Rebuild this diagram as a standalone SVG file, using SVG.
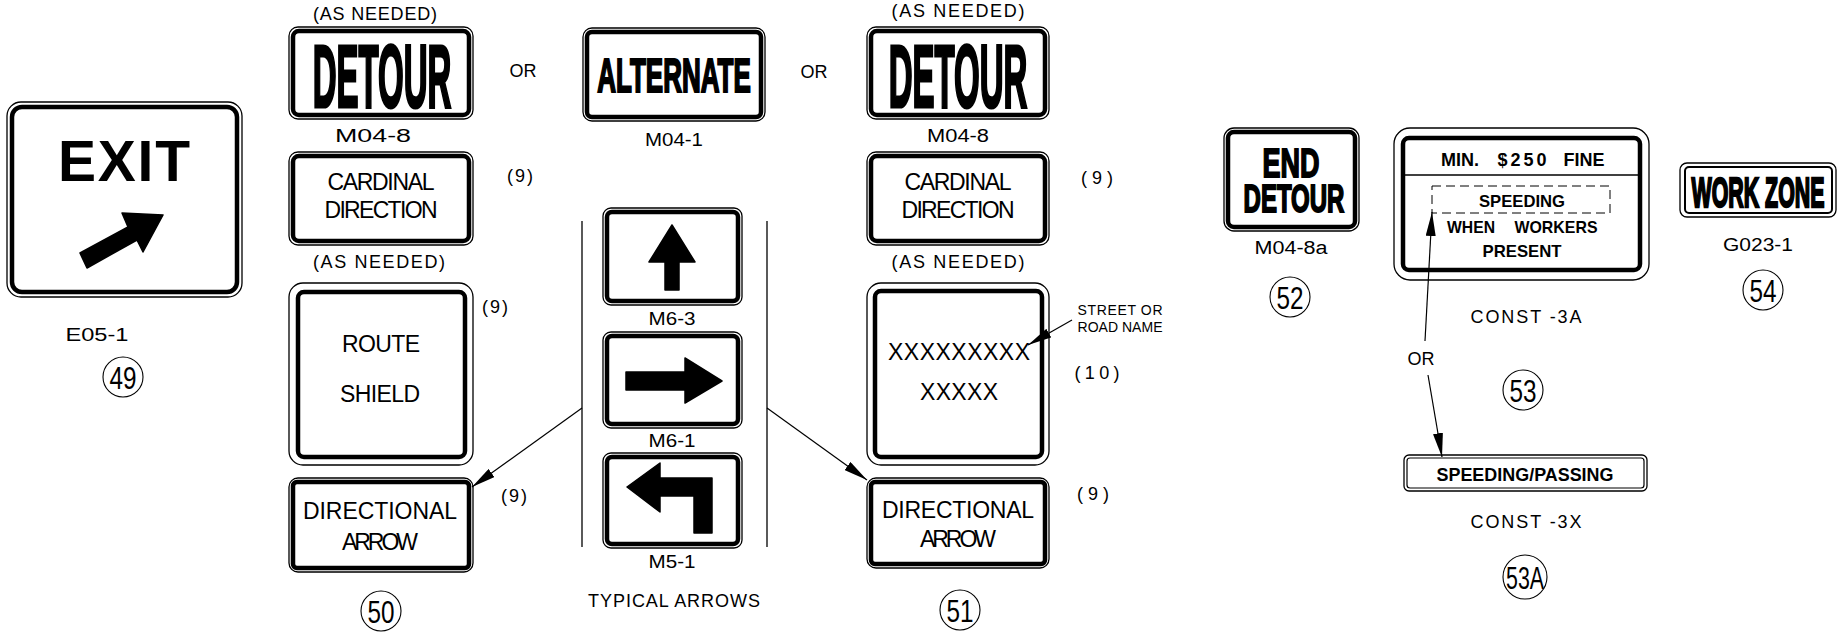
<svg xmlns="http://www.w3.org/2000/svg" width="1840" height="638" viewBox="0 0 1840 638">
<style>
  text { font-family: "Liberation Sans", Arial, sans-serif; fill: #000; text-anchor: middle; }
  .lbl { font-size: 18px; }
  .sm { font-size: 14px; }
  .sig { font-size: 23px; }
  .b { font-weight: bold; }
  .num { font-size: 32px; }
  .o { fill: #fff; stroke: #000; stroke-width: 1.3; }
  .i { fill: none; stroke: #000; stroke-width: 4.5; }
  .ln { fill: none; stroke: #000; stroke-width: 1.3; }
  .ar { fill: none; stroke: #000; stroke-width: 1.2; marker-end: url(#ah); }
  .circ { fill: none; stroke: #000; stroke-width: 1.1; }
  .fillb { fill: #000; stroke: #000; stroke-width: 1.5; stroke-linejoin: round; }
  .hv { stroke: #000; stroke-width: 1.2; }
</style>
<defs>
  <marker id="ah" markerUnits="userSpaceOnUse" markerWidth="26" markerHeight="10" refX="24" refY="5" orient="auto">
    <path d="M0,0 L24,5 L0,10 z" fill="#000"/>
  </marker>
</defs>
<rect width="1840" height="638" fill="#fff"/>

<g id="sign-49-E05-1">
  <rect class="o" x="7" y="102" width="235" height="195" rx="14"/>
  <rect class="i" x="12" y="107" width="225" height="185" rx="10"/>
  <text class="b" x="124" y="181" font-size="57" textLength="132">EXIT</text>
  <polygon class="fillb" points="80,253 87,268 137,240 143,252 163,215 122,213 128,227"/>
  <text class="lbl" x="97" y="341" textLength="63" lengthAdjust="spacingAndGlyphs">E05-1</text>
  <circle class="circ" cx="123" cy="377" r="20"/>
  <text class="num" x="123" y="389" textLength="27" lengthAdjust="spacingAndGlyphs">49</text>
</g>

<g id="sign-50-M04-8">
  <text class="lbl" x="375" y="20" textLength="124">(AS NEEDED)</text>
  <rect class="o" x="289" y="27" width="184" height="92" rx="9"/>
  <rect class="i" x="293" y="31" width="176" height="84" rx="6"/>
  <text class="b hv" transform="translate(382,107) scale(1,2.69)" font-size="33" x="0" y="0">DETOUR</text>
  <text class="lbl" x="373" y="142" textLength="76" lengthAdjust="spacingAndGlyphs">M04-8</text>
</g>
<g id="sign-50-cardinal">
  <rect class="o" x="289" y="152" width="184" height="93" rx="9"/>
  <rect class="i" x="293" y="156" width="176" height="85" rx="6"/>
  <text class="sig" x="381" y="190" textLength="107">CARDINAL</text>
  <text class="sig" x="381" y="218" textLength="113">DIRECTION</text>
  <text class="lbl" x="520" y="182" textLength="26">(9)</text>
  <text class="lbl" x="379" y="268" textLength="132">(AS NEEDED)</text>
</g>
<g id="sign-50-route-shield">
  <rect class="o" x="289" y="283" width="184" height="182" rx="14"/>
  <rect class="i" x="298" y="292" width="167" height="165" rx="6" stroke-width="6"/>
  <text class="sig" x="381" y="352" textLength="78">ROUTE</text>
  <text class="sig" x="380" y="402" textLength="80">SHIELD</text>
  <text class="lbl" x="495" y="313" textLength="26">(9)</text>
</g>
<g id="sign-50-directional">
  <rect class="o" x="289" y="478" width="184" height="94" rx="9"/>
  <rect class="i" x="293" y="482" width="176" height="86" rx="4" stroke-width="4"/>
  <text class="sig" x="380" y="519" textLength="154">DIRECTIONAL</text>
  <text class="sig" x="380" y="550" textLength="76">ARROW</text>
  <text class="lbl" x="514" y="502" textLength="26">(9)</text>
  <circle class="circ" cx="381" cy="611" r="20"/>
  <text class="num" x="381" y="623" textLength="27" lengthAdjust="spacingAndGlyphs">50</text>
</g>

<g id="or-1"><text class="lbl" x="523" y="77">OR</text></g>
<g id="or-2"><text class="lbl" x="814" y="78">OR</text></g>

<g id="sign-M04-1">
  <rect class="o" x="583" y="28" width="182" height="93" rx="9"/>
  <rect class="i" x="587" y="32" width="174" height="85" rx="5" stroke-width="4"/>
  <text class="b hv" transform="translate(674,92) scale(1,1.87)" font-size="26" x="0" y="0">ALTERNATE</text>
  <text class="lbl" x="674" y="146" textLength="58" lengthAdjust="spacingAndGlyphs">M04-1</text>
</g>

<g id="sign-M6-3">
  <rect class="o" x="603" y="208" width="139" height="97" rx="8"/>
  <rect class="i" x="607" y="212" width="131" height="89" rx="5" stroke-width="4"/>
  <polygon class="fillb" points="665,290 679,290 679,262 695,262 672,225 649,262 665,262"/>
  <text class="lbl" x="672" y="325" textLength="47" lengthAdjust="spacingAndGlyphs">M6-3</text>
</g>
<g id="sign-M6-1">
  <rect class="o" x="603" y="332" width="139" height="96" rx="8"/>
  <rect class="i" x="607" y="336" width="131" height="88" rx="5" stroke-width="4"/>
  <polygon class="fillb" points="626,372 685,372 685,358 722,381 685,403 685,390 626,390"/>
  <text class="lbl" x="672" y="447" textLength="47" lengthAdjust="spacingAndGlyphs">M6-1</text>
</g>
<g id="sign-M5-1">
  <rect class="o" x="603" y="453" width="139" height="95" rx="8"/>
  <rect class="i" x="607" y="457" width="131" height="87" rx="5" stroke-width="4"/>
  <polygon class="fillb" points="627,487 660,463 660,478 712,478 712,533 694,533 694,496 660,496 660,512"/>
  <text class="lbl" x="672" y="568" textLength="47" lengthAdjust="spacingAndGlyphs">M5-1</text>
  <text class="lbl" x="674" y="607" textLength="172">TYPICAL ARROWS</text>
</g>

<g id="sign-51-M04-8">
  <text class="lbl" x="958" y="17" textLength="133">(AS NEEDED)</text>
  <rect class="o" x="867" y="27" width="182" height="92" rx="9"/>
  <rect class="i" x="871" y="31" width="174" height="84" rx="6"/>
  <text class="b hv" transform="translate(958,107) scale(1,2.69)" font-size="33" x="0" y="0">DETOUR</text>
  <text class="lbl" x="958" y="142" textLength="62" lengthAdjust="spacingAndGlyphs">M04-8</text>
</g>
<g id="sign-51-cardinal">
  <rect class="o" x="867" y="152" width="182" height="93" rx="9"/>
  <rect class="i" x="871" y="156" width="174" height="85" rx="6"/>
  <text class="sig" x="958" y="190" textLength="107">CARDINAL</text>
  <text class="sig" x="958" y="218" textLength="113">DIRECTION</text>
  <text class="lbl" x="1097" y="184" textLength="32">(9)</text>
  <text class="lbl" x="958" y="268" textLength="133">(AS NEEDED)</text>
</g>
<g id="sign-51-street">
  <rect class="o" x="867" y="283" width="182" height="182" rx="14"/>
  <rect class="i" x="875" y="291" width="167" height="166" rx="6" stroke-width="6"/>
  <text class="sig" x="959" y="360" textLength="142">XXXXXXXXX</text>
  <text class="sig" x="959" y="400" textLength="78">XXXXX</text>
  <text class="sm" x="1120" y="315" textLength="85">STREET OR</text>
  <text class="sm" x="1120" y="332" textLength="85">ROAD NAME</text>
  <text class="lbl" x="1097" y="379" textLength="45">(10)</text>
</g>
<g id="sign-51-directional">
  <rect class="o" x="867" y="478" width="182" height="90" rx="9"/>
  <rect class="i" x="871" y="482" width="174" height="82" rx="4" stroke-width="4"/>
  <text class="sig" x="958" y="518" textLength="152">DIRECTIONAL</text>
  <text class="sig" x="958" y="547" textLength="76">ARROW</text>
  <text class="lbl" x="1093" y="500" textLength="32">(9)</text>
  <circle class="circ" cx="960" cy="610" r="20"/>
  <text class="num" x="960" y="622" textLength="27" lengthAdjust="spacingAndGlyphs">51</text>
</g>

<g id="sign-52-M04-8a">
  <rect class="o" x="1224" y="128" width="135" height="103" rx="10"/>
  <rect class="i" x="1228" y="132" width="127" height="95" rx="6"/>
  <text class="b hv" transform="translate(1291,177) scale(1,1.5)" font-size="27" x="0" y="0">END</text>
  <text class="b hv" transform="translate(1294,212) scale(1,1.6)" font-size="24" x="0" y="0">DETOUR</text>
  <text class="lbl" x="1291" y="254" textLength="73" lengthAdjust="spacingAndGlyphs">M04-8a</text>
  <circle class="circ" cx="1290" cy="297" r="20"/>
  <text class="num" x="1290" y="309" textLength="27" lengthAdjust="spacingAndGlyphs">52</text>
</g>

<g id="sign-53-CONST-3A">
  <rect class="o" x="1394" y="128" width="255" height="152" rx="16"/>
  <rect class="i" x="1403" y="138" width="237" height="132" rx="6" stroke-width="3"/>
  <line class="ln" x1="1403" y1="175" x2="1640" y2="175" stroke-width="1.6"/>
  <text class="b" x="1460" y="166" font-size="18">MIN.</text>
  <text class="b" x="1522" y="166" font-size="18" textLength="49">$250</text>
  <text class="b" x="1584" y="166" font-size="18">FINE</text>
  <rect x="1432" y="186" width="178" height="27" fill="none" stroke="#000" stroke-width="1" stroke-dasharray="9,5"/>
  <text class="b" x="1522" y="207" font-size="17" textLength="86" lengthAdjust="spacingAndGlyphs">SPEEDING</text>
  <text class="b" x="1471" y="233" font-size="17" textLength="48" lengthAdjust="spacingAndGlyphs">WHEN</text>
  <text class="b" x="1556" y="233" font-size="17" textLength="83" lengthAdjust="spacingAndGlyphs">WORKERS</text>
  <text class="b" x="1522" y="257" font-size="17" textLength="79" lengthAdjust="spacingAndGlyphs">PRESENT</text>
  <text class="lbl" x="1526" y="323" textLength="111">CONST -3A</text>
  <circle class="circ" cx="1523" cy="390" r="20"/>
  <text class="num" x="1523" y="402" textLength="27" lengthAdjust="spacingAndGlyphs">53</text>
  <text class="lbl" x="1421" y="365">OR</text>
</g>

<g id="sign-53A-CONST-3X">
  <rect class="o" x="1404" y="455" width="243" height="36" rx="5"/>
  <rect x="1407" y="458" width="237" height="30" rx="3" fill="none" stroke="#000" stroke-width="1.2"/>
  <text class="b" x="1525" y="481" font-size="18" textLength="177" lengthAdjust="spacingAndGlyphs">SPEEDING/PASSING</text>
  <text class="lbl" x="1526" y="528" textLength="111">CONST -3X</text>
  <circle class="circ" cx="1525" cy="577" r="22"/>
  <text class="num" x="1525" y="589" textLength="38" lengthAdjust="spacingAndGlyphs">53A</text>
</g>

<g id="sign-54-G023-1">
  <rect class="o" x="1680" y="163" width="156" height="54" rx="7"/>
  <rect x="1685" y="167" width="147" height="46" rx="4" fill="none" stroke="#000" stroke-width="2"/>
  <text class="b hv" transform="translate(1758,207) scale(1,1.96)" font-size="21.4" x="0" y="0">WORK ZONE</text>
  <text class="lbl" x="1758" y="251" textLength="70" lengthAdjust="spacingAndGlyphs">G023-1</text>
  <circle class="circ" cx="1763" cy="290" r="20"/>
  <text class="num" x="1763" y="302" textLength="27" lengthAdjust="spacingAndGlyphs">54</text>
</g>

<g id="connectors">
  <line class="ln" x1="582" y1="221" x2="582" y2="547"/>
  <line class="ln" x1="767" y1="221" x2="767" y2="547"/>
  <line class="ar" x1="582" y1="408" x2="472" y2="487"/>
  <line class="ar" x1="767" y1="408" x2="867" y2="480"/>
  <line class="ar" x1="1072" y1="320" x2="1028" y2="345"/>
  <line class="ar" x1="1425" y1="341" x2="1432" y2="212"/>
  <line class="ar" x1="1428" y1="375" x2="1442" y2="457"/>
</g>
</svg>
